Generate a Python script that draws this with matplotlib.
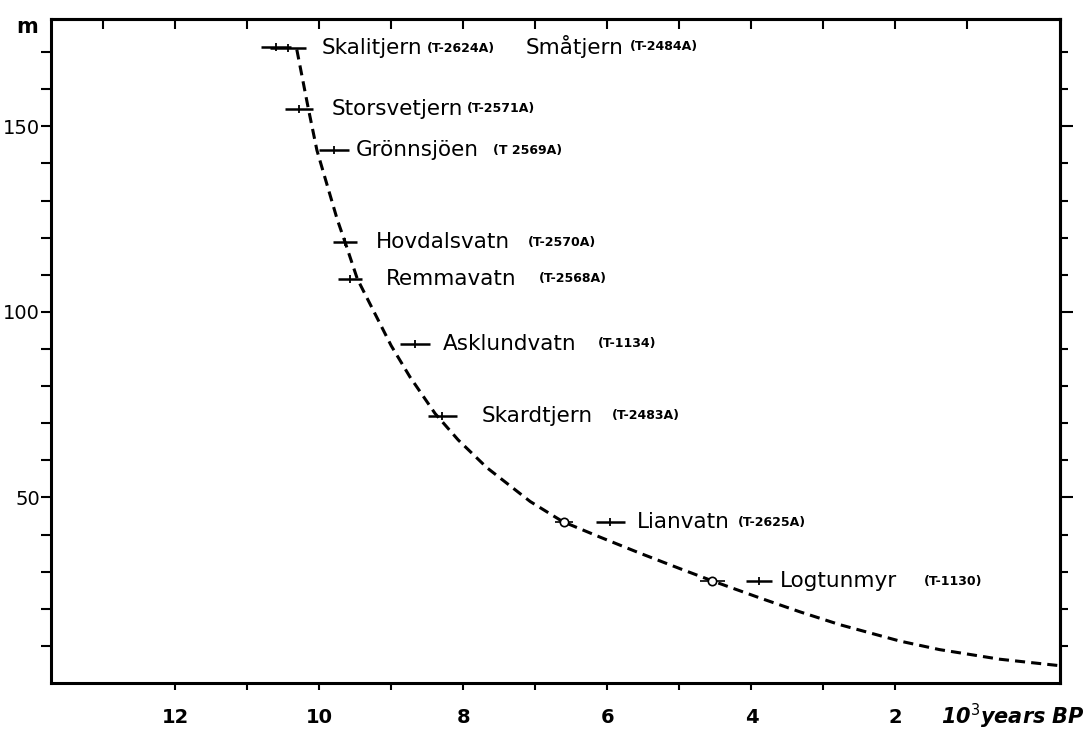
import matplotlib.pyplot as plt
from matplotlib.ticker import FixedLocator, FixedFormatter, NullFormatter

# radiocarbon dated isolation basins (age in 10^3 years BP, elevation in m)
sites = ['Småtjern', 'Skalitjern', 'Storsvetjern', 'Grönnsjöen', 'Hovdalsvatn',
         'Remmavatn', 'Asklundvatn', 'Skardtjern', 'Lianvatn', 'Logtunmyr']
lab_codes = ['(T-2484A)', '(T-2624A)', '(T-2571A)', '(T 2569A)', '(T-2570A)',
             '(T-2568A)', '(T-1134)', '(T-2483A)', '(T-2625A)', '(T-1130)']
ages = [10.60, 10.43, 10.28, 9.79, 9.64, 9.57, 8.67, 8.29, 5.96, 3.90]
age_err = [0.21, 0.25, 0.20, 0.21, 0.17, 0.17, 0.21, 0.20, 0.20, 0.18]
elev = [171.4, 171.0, 154.8, 143.5, 118.8, 108.9, 91.4, 72.0, 43.3, 27.4]

# corrected positions of the two youngest dates
shifted_age = [6.60, 4.54]
shifted_err = [0.12, 0.18]
shifted_elev = [43.5, 27.4]

# shoreline displacement curve
curve_age = [10.31, 10.15, 10.03, 9.75, 9.64, 9.47, 9.00, 8.74, 8.39, 8.07,
             7.67, 7.07, 6.62, 6.10, 5.55, 4.99, 4.54, 3.88, 3.33, 2.77,
             1.94, 1.39, 0.55, -0.31]
curve_elev = [170.7, 154.8, 143.5, 125.0, 118.8, 108.9, 90.9, 82.5, 72.6, 65.5,
              58.0, 48.9, 43.5, 39.3, 35.0, 30.8, 27.5, 22.9, 19.2, 15.7,
              11.3, 9.0, 6.4, 4.6]

x_ticks = list(range(2, 13))
x_labels = [str(v) if v % 2 == 0 else '' for v in x_ticks]
y_ticks = list(range(10, 180, 10))
y_labels = [str(v) if v % 50 == 0 else '' for v in y_ticks]

# where the site name and lab code start (10^3 years BP)
name_x = [7.14, 9.97, 9.82, 9.49, 9.21, 9.07, 8.28, 7.74, 5.59, 3.61]
code_x = [5.69, 8.50, 7.95, 7.59, 7.10, 6.95, 6.13, 5.94, 4.19, 1.60]

fig = plt.figure(figsize=(10.88, 7.34), dpi=100)
ax = fig.add_axes([0.047, 0.0695, 0.927, 0.905])

ax.plot(curve_age, curve_elev, color='k', lw=2.2, dashes=(3.3, 2.0))
ax.errorbar(ages, elev, xerr=age_err, fmt='none', ecolor='k', elinewidth=1.8, capsize=0)
ax.plot(ages, elev, ls='none', marker='|', ms=6, mew=1.3, color='k')
ax.errorbar(shifted_age, shifted_elev, xerr=shifted_err, fmt='none', ecolor='k',
            elinewidth=1.2, capsize=0)
ax.plot(shifted_age, shifted_elev, ls='none', marker='o', ms=6, mfc='white',
        mec='k', mew=1.2)

for i in range(len(sites)):
    ax.text(name_x[i], elev[i], sites[i], fontsize=15.5, ha='left', va='center')
    ax.text(code_x[i], elev[i], lab_codes[i], fontsize=9, fontweight='bold',
            ha='left', va='center')

ax.set_xlim(13.72, -0.28)
ax.set_ylim(0, 179)

for s in ax.spines.values():
    s.set_linewidth(2.2)

ax.xaxis.set_major_locator(FixedLocator(x_ticks))
ax.xaxis.set_major_formatter(FixedFormatter(x_labels))
ax.tick_params(axis='x', direction='out', length=5, width=1.5, pad=13,
               labelsize=14)
for lbl in ax.get_xticklabels():
    lbl.set_fontweight('bold')

ax.yaxis.set_major_locator(FixedLocator(y_ticks))
ax.yaxis.set_major_formatter(FixedFormatter(y_labels))
ax.tick_params(axis='y', direction='out', length=7, width=1.5, pad=1,
               labelsize=14)

top = ax.secondary_xaxis('top')
top.set_xticks(list(range(1, 14)))
top.xaxis.set_major_formatter(NullFormatter())
top.tick_params(direction='in', length=7, width=1.5)
top.spines['top'].set_linewidth(2.2)

right = ax.secondary_yaxis('right')
right.yaxis.set_major_locator(FixedLocator([50, 100, 150]))
right.yaxis.set_minor_locator(FixedLocator(y_ticks))
right.yaxis.set_major_formatter(NullFormatter())
right.tick_params(which='major', direction='out', length=9, width=1.5)
right.tick_params(which='minor', direction='out', length=6, width=1.5)
right.spines['right'].set_linewidth(2.2)

fig.text(27 / 1088, 1 - 27 / 734, 'm', fontsize=15, fontweight='bold',
         ha='center', va='center')
fig.text(1085 / 1088, 1 - 716 / 734, r'10$^{3}$years BP', fontsize=15,
         fontweight='bold', fontstyle='italic', ha='right', va='center')

fig.savefig('out.png', dpi=100)
